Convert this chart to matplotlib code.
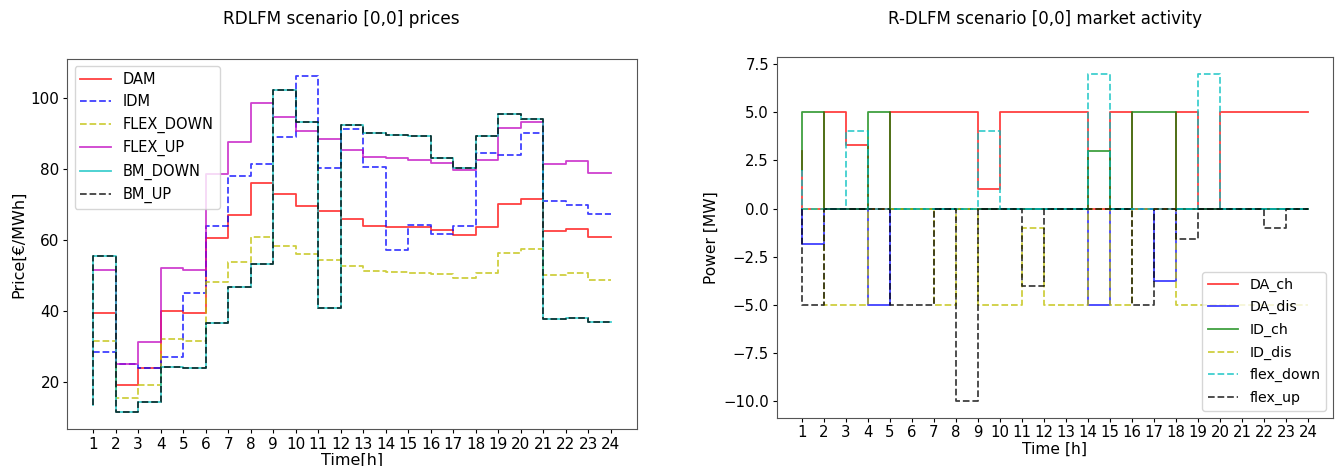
import numpy as np
import matplotlib
matplotlib.use("Agg")
import matplotlib.pyplot as plt

hours = np.arange(1, 25)

# prices, value at hour h is the step ending at h (steps-pre)
dam = [39.6, 39.6, 19.3, 24.0, 40.1, 39.6, 60.4, 67.1, 75.9, 72.9, 69.6, 68.0,
       65.8, 64.0, 63.7, 63.5, 62.8, 61.3, 63.7, 70.2, 71.6, 62.6, 63.2, 60.9]
idm = [28.4, 28.4, 25.0, 24.0, 27.2, 45.1, 64.0, 78.0, 81.3, 89.0, 106.1, 80.3,
       91.1, 80.6, 57.1, 64.2, 61.6, 63.8, 84.3, 83.8, 89.9, 71.0, 69.9, 67.2]
flex_down_p = [31.7, 31.7, 15.5, 19.3, 32.2, 31.7, 48.3, 53.7, 60.7, 58.3, 55.9, 54.4,
               52.7, 51.3, 51.1, 50.8, 50.3, 49.3, 50.8, 56.3, 57.4, 50.1, 50.6, 48.6]
flex_up_p = [51.5, 51.5, 25.0, 31.2, 52.1, 51.6, 78.5, 87.4, 98.6, 94.6, 90.6, 88.3,
             85.3, 83.4, 82.9, 82.5, 81.7, 79.7, 82.5, 91.3, 93.2, 81.3, 82.1, 78.9]
bm = [13.7, 55.5, 11.6, 14.6, 24.2, 24.0, 36.6, 46.8, 53.2, 102.2, 93.2, 41.0,
      92.4, 90.0, 89.5, 89.2, 83.1, 80.3, 89.2, 95.5, 93.9, 37.8, 38.1, 36.8]

# market activity
da_ch = [3.0, 0, 5, 3.3, 0, 5, 5, 5, 5, 1.0, 5, 5,
         5, 5, 0, 5, 0, 0, 5, 0, 5, 5, 5, 5]
da_dis = [0, -1.85, 0, 0, -5, 0, 0, 0, 0, 0, 0, 0,
          0, 0, -5, 0, 0, -3.75, 0, 0, 0, 0, 0, 0]
id_ch = [2.0, 5, 0, 0, 5, 0, 0, 0, 0, 0, 0, 0,
         0, 0, 3.0, 0, 5, 5, 0, 0, 0, 0, 0, 0]
id_dis = [0, 0, -5, -5, 0, 0, 0, -5, 0, -5, -5, -1.0,
          -5, -5, 0, -5, 0, 0, -5, -5, -5, -5, -5, -5]
flex_down = [2.0, 0, 0, 4.05, 0, 0, 0, 0, 0, 4.05, 0, 0,
             0, 0, 7, 0, 0, 0, 0, 7, 0, 0, 0, 0]
flex_up = [0, -5, 0, 0, 0, -5, -5, 0, -10, 0, 0, -4.0,
           0, 0, 0, 0, -5, 0, -1.6, 0, 0, 0, -1.0, 0]

fig = plt.figure(figsize=(13.43, 4.66), dpi=100)
ax1 = fig.add_axes([0.0501, 0.0794, 0.424, 0.794])
ax2 = fig.add_axes([0.5783, 0.1036, 0.4144, 0.7734])

a = 0.75
lw = 1.3
ax1.step(hours, dam, 'r-', alpha=a, lw=lw, label='DAM')
ax1.step(hours, idm, 'b--', alpha=a, lw=lw, label='IDM')
ax1.step(hours, flex_down_p, 'y--', alpha=a, lw=lw, label='FLEX_DOWN')
ax1.step(hours, flex_up_p, 'm-', alpha=a, lw=lw, label='FLEX_UP')
ax1.step(hours, bm, 'c-', alpha=a, lw=lw, label='BM_DOWN')
ax1.step(hours, bm, 'k--', alpha=a, lw=lw, label='BM_UP')
ax1.set_xticks(hours)
ax1.set_title('RDLFM scenario [0,0] prices', fontsize=12.2, pad=25, x=0.482)
ax1.set_xlabel('Time[h]', fontsize=11.5, labelpad=1)
ax1.set_ylabel('Price[€/MWh]', fontsize=11.5, labelpad=3)
ax1.tick_params(labelsize=11, length=3, pad=2.5)
ax1.legend(loc='upper left', fontsize=10.5, handlelength=2.1)

ax2.step(hours, da_ch, 'r-', alpha=a, lw=lw, label='DA_ch')
ax2.step(hours, da_dis, 'b-', alpha=a, lw=lw, label='DA_dis')
ax2.step(hours, id_ch, 'g-', alpha=a, lw=lw, label='ID_ch')
ax2.step(hours, id_dis, 'y--', alpha=a, lw=lw, label='ID_dis')
ax2.step(hours, flex_down, 'c--', alpha=a, lw=lw, label='flex_down')
ax2.step(hours, flex_up, 'k--', alpha=a, lw=lw, label='flex_up')
ax2.set_xticks(hours)
ax2.set_title('R-DLFM scenario [0,0] market activity', fontsize=12, pad=24, x=0.482)
ax2.set_xlabel('Time [h]', fontsize=11.2, labelpad=1)
ax2.set_ylabel('Power [MW]', fontsize=11.2, labelpad=3)
ax2.tick_params(labelsize=10.7, length=3, pad=2.5)
ax2.legend(loc='lower right', fontsize=10.2, labelspacing=0.6, handlelength=2.15)

for ax in (ax1, ax2):
    for s in ax.spines.values():
        s.set_color('#555555')

fig.savefig('out.png', dpi=100)
